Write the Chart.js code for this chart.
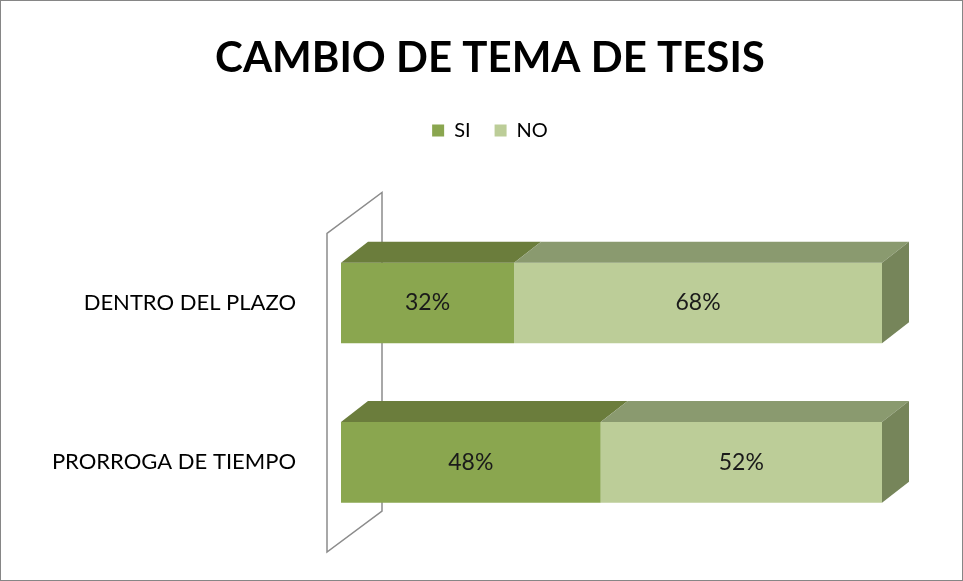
<!DOCTYPE html>
<html>
<head>
<meta charset="utf-8">
<script src="https://cdn.jsdelivr.net/npm/chart.js@4"></script>
<style>
  body { margin: 0; background: #fff; }
</style>
</head>
<body>
<canvas id="c" width="963" height="581"></canvas>
<script>
const categories = ['DENTRO DEL PLAZO', 'PRORROGA DE TIEMPO'];
const seriesNames = ['SI', 'NO'];
const siValues = [32, 48];
const noValues = [68, 52];

const frontColors = ['#8aa64f', '#bccd98'];
const topColors = ['#6b7d3c', '#8a9a6f'];
const sideColor = '#76855a';
const depthX = 27, depthY = 21;

// fake 3d: back wall, top faces, right face, value labels, outer border
const threeD = {
    id: 'threeD',
    afterInit(chart) {
        const legend = chart.legend;
        const fit = legend.fit;
        legend.fit = function () {
            fit.call(this);
            this.height += 73;
        };
    },
    beforeDatasetsDraw(chart) {
        const ctx = chart.ctx;
        const a = chart.chartArea;
        ctx.save();
        ctx.strokeStyle = '#8c8c8c';
        ctx.lineWidth = 1.5;
        ctx.beginPath();
        ctx.moveTo(a.left - 14, a.bottom + 10);
        ctx.lineTo(a.left - 14, a.top + 10);
        ctx.lineTo(a.left + 41, a.top - 31);
        ctx.lineTo(a.left + 41, a.bottom - 31);
        ctx.closePath();
        ctx.stroke();
        ctx.restore();
    },
    afterDatasetsDraw(chart) {
        const ctx = chart.ctx;
        ctx.save();
        categories.forEach((c, i) => {
            [0, 1].forEach(d => {
                const bar = chart.getDatasetMeta(d).data[i];
                const p = bar.getProps(['x', 'y', 'base', 'height'], true);
                const left = Math.min(p.x, p.base), right = Math.max(p.x, p.base);
                const top = p.y - p.height / 2, bottom = p.y + p.height / 2;
                ctx.fillStyle = topColors[d];
                ctx.beginPath();
                ctx.moveTo(left, top);
                ctx.lineTo(left + depthX, top - depthY);
                ctx.lineTo(right + depthX, top - depthY);
                ctx.lineTo(right, top);
                ctx.closePath();
                ctx.fill();
                if (d === 1) {
                    ctx.fillStyle = sideColor;
                    ctx.beginPath();
                    ctx.moveTo(right, top);
                    ctx.lineTo(right + depthX, top - depthY);
                    ctx.lineTo(right + depthX, bottom - depthY);
                    ctx.lineTo(right, bottom);
                    ctx.closePath();
                    ctx.fill();
                }
                const val = chart.data.datasets[d].data[i];
                ctx.fillStyle = '#1a1a1a';
                ctx.font = '23px Lato';
                ctx.textAlign = 'center';
                ctx.textBaseline = 'middle';
                ctx.fillText(val + '%', (left + right) / 2, p.y);
            });
        });
        ctx.restore();
    },
    afterDraw(chart) {
        const ctx = chart.ctx;
        ctx.save();
        ctx.strokeStyle = '#868686';
        ctx.lineWidth = 1;
        ctx.strokeRect(0.5, 0.5, chart.width - 1, chart.height - 1);
        ctx.restore();
    }
};

function noPad(scale) {
    scale.paddingTop = 0;
    scale.paddingBottom = 0;
}

new Chart(document.getElementById('c'), {
    type: 'bar',
    data: {
        labels: categories,
        datasets: [
            { label: seriesNames[0], data: siValues, backgroundColor: frontColors[0] },
            { label: seriesNames[1], data: noValues, backgroundColor: frontColors[1] }
        ]
    },
    options: {
        indexAxis: 'y',
        responsive: false,
        animation: false,
        devicePixelRatio: 1,
        categoryPercentage: 1,
        barPercentage: 0.506,
        layout: { padding: { left: 17, right: 0, top: 0, bottom: 39 } },
        scales: {
            x: { stacked: true, min: 0, max: 100, display: false },
            y: {
                stacked: true,
                grid: { display: false, drawTicks: false },
                border: { display: false },
                ticks: { color: '#000', font: { family: 'Lato', size: 22 }, padding: 45 },
                afterFit(scale) { scale.width = 324; noPad(scale); }
            },
            yRight: {
                type: 'linear',
                position: 'right',
                grid: { display: false, drawTicks: false },
                border: { display: false },
                ticks: { display: false },
                afterFit(scale) { scale.width = 81; noPad(scale); }
            }
        },
        plugins: {
            title: {
                display: true,
                text: 'CAMBIO DE TEMA DE TESIS',
                color: '#000',
                font: { family: 'Lato', size: 42, weight: 'bold' },
                padding: { top: 33, bottom: 13 }
            },
            legend: {
                labels: {
                    color: '#000',
                    boxWidth: 12,
                    boxHeight: 12,
                    padding: 24,
                    font: { family: 'Lato', size: 20 }
                }
            },
            tooltip: { enabled: false }
        }
    },
    plugins: [threeD]
});
</script>
</body>
</html>
